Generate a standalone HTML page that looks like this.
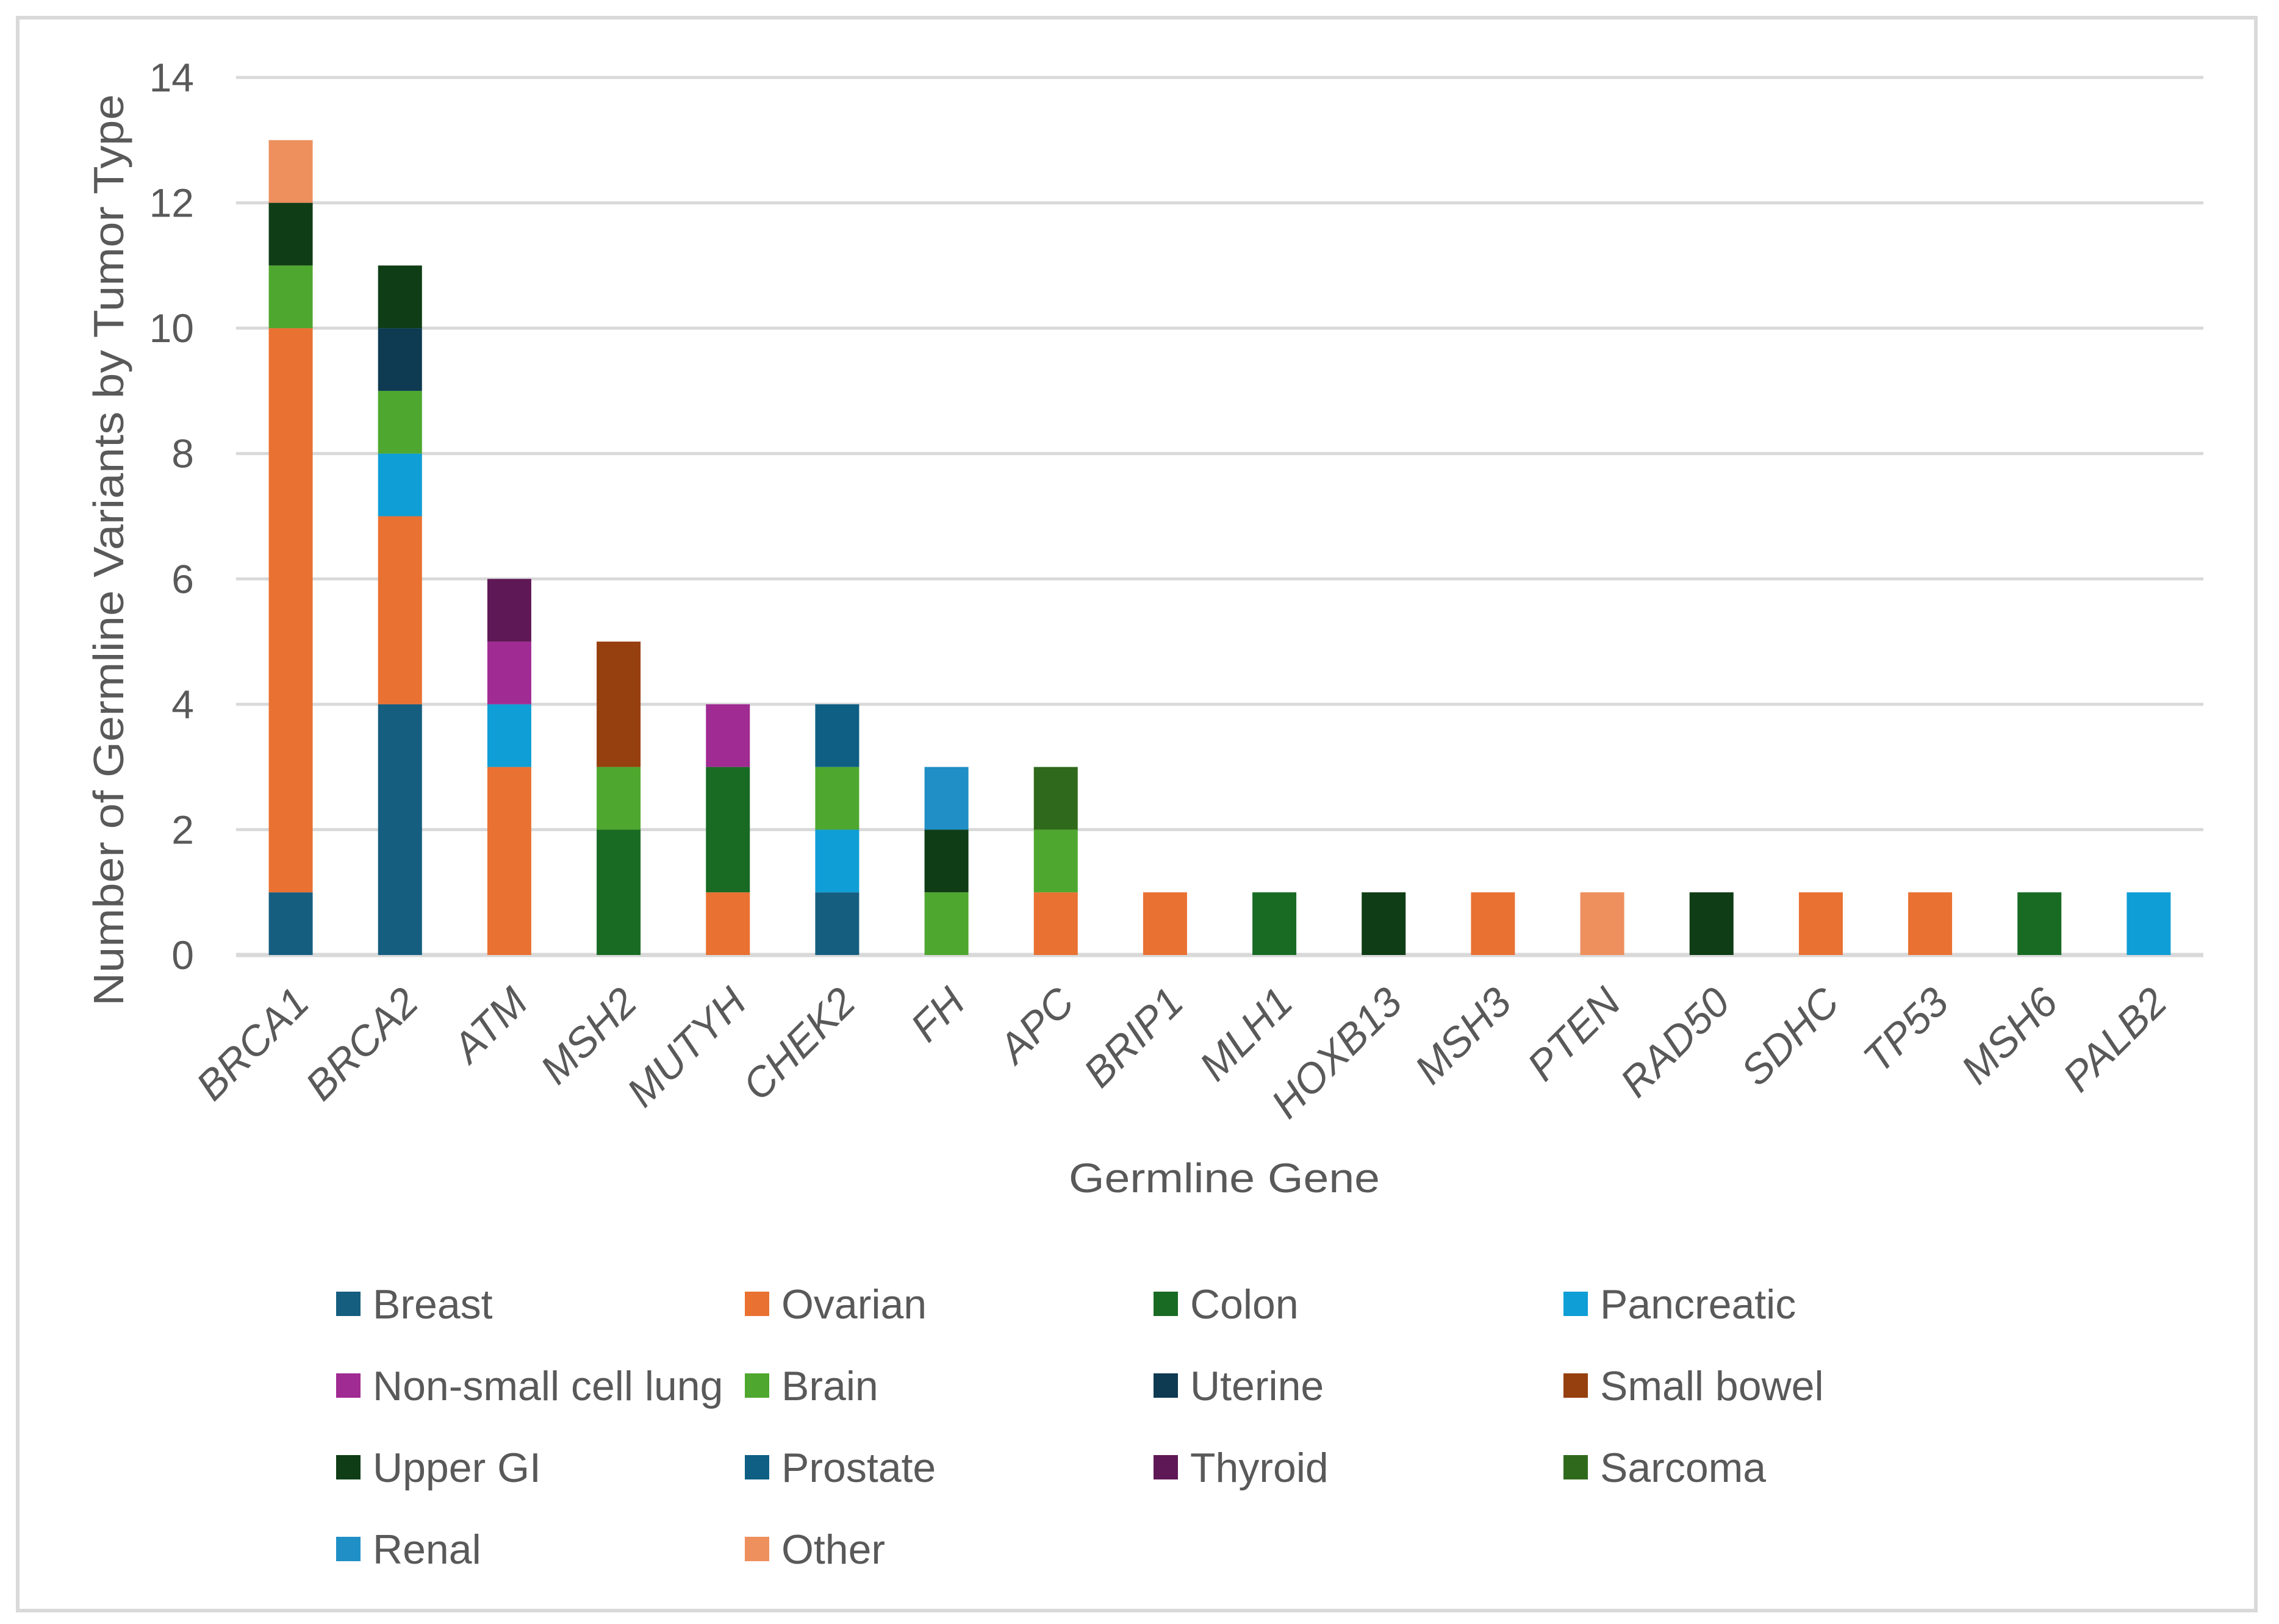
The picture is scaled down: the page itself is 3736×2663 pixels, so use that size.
<!DOCTYPE html>
<html><head><meta charset="utf-8"><style>
html,body{margin:0;padding:0;background:#fff;}
svg{display:block;font-family:"Liberation Sans",sans-serif;}
</style></head><body>
<svg id="chart" width="3736" height="2663" viewBox="0 0 3736 2663" xmlns="http://www.w3.org/2000/svg">
<rect x="0" y="0" width="3736" height="2663" fill="#fff"/>
<rect x="29" y="29" width="3669" height="2612" fill="none" stroke="#d9d9d9" stroke-width="6"/>
<g id="grid"></g>
<g id="bars"></g>
<g id="ylabels"></g>
<g id="xlabels"></g>
<text transform="translate(202,902) rotate(-90)" text-anchor="middle" font-size="70" textLength="1495" lengthAdjust="spacingAndGlyphs" fill="#595959">Number of Germline Variants by Tumor Type</text>
<text x="2007" y="1955" text-anchor="middle" font-size="68" textLength="510" lengthAdjust="spacingAndGlyphs" fill="#595959">Germline Gene</text>
<g id="legend"></g>
</svg>
<script>
const categories = ["BRCA1","BRCA2","ATM","MSH2","MUTYH","CHEK2","FH","APC","BRIP1","MLH1","HOXB13","MSH3","PTEN","RAD50","SDHC","TP53","MSH6","PALB2"];
const seriesNames = ["Breast","Ovarian","Colon","Pancreatic","Non-small cell lung","Brain","Uterine","Small bowel","Upper GI","Prostate","Thyroid","Sarcoma","Renal","Other"];
const seriesColors = ["#165e80","#e97132","#196b24","#0f9ed5","#a02b93","#4ea72e","#0e3a52","#963f0f","#0f3d16","#0f5f84","#5f1856","#2f6a1c","#1f8fc5","#ee8f5e"];
const breast     = [1,4,0,0,0,1,0,0,0,0,0,0,0,0,0,0,0,0];
const ovarian    = [9,3,3,0,1,0,0,1,1,0,0,1,0,0,1,1,0,0];
const colon      = [0,0,0,2,2,0,0,0,0,1,0,0,0,0,0,0,1,0];
const pancreatic = [0,1,1,0,0,1,0,0,0,0,0,0,0,0,0,0,0,1];
const nsclc      = [0,0,1,0,1,0,0,0,0,0,0,0,0,0,0,0,0,0];
const brain      = [1,1,0,1,0,1,1,1,0,0,0,0,0,0,0,0,0,0];
const uterine    = [0,1,0,0,0,0,0,0,0,0,0,0,0,0,0,0,0,0];
const smallBowel = [0,0,0,2,0,0,0,0,0,0,0,0,0,0,0,0,0,0];
const upperGI    = [1,1,0,0,0,0,1,0,0,0,1,0,0,1,0,0,0,0];
const prostate   = [0,0,0,0,0,1,0,0,0,0,0,0,0,0,0,0,0,0];
const thyroid    = [0,0,1,0,0,0,0,0,0,0,0,0,0,0,0,0,0,0];
const sarcoma    = [0,0,0,0,0,0,0,1,0,0,0,0,0,0,0,0,0,0];
const renal      = [0,0,0,0,0,0,1,0,0,0,0,0,0,0,0,0,0,0];
const other      = [1,0,0,0,0,0,0,0,0,0,0,0,1,0,0,0,0,0];
const yTicks = [0,2,4,6,8,10,12,14];

const series = [breast,ovarian,colon,pancreatic,nsclc,brain,uterine,smallBowel,upperGI,prostate,thyroid,sarcoma,renal,other];
const NS="http://www.w3.org/2000/svg";
const plotL=387, plotR=3612, y0=1566, yTop=127, yMax=14;
const band=(plotR-plotL)/categories.length, barW=72;
function yScale(v){return y0-(v/yMax)*(y0-yTop);}
function xCenter(i){return plotL+band*(i+0.5);}
function mk(tag,attrs,parent){const e=document.createElementNS(NS,tag);for(const k in attrs)e.setAttribute(k,attrs[k]);parent.appendChild(e);return e;}

const grid=document.getElementById('grid'), ylab=document.getElementById('ylabels');
yTicks.forEach(t=>{
  const y=yScale(t);
  const l=mk('line',{x1:plotL,x2:plotR,y1:y,y2:y,stroke:'#d9d9d9','stroke-width':t===0?7:5},grid);
  
  
  const tx=mk('text',{x:318,y:y+23,'text-anchor':'end','font-size':66,fill:'#595959'},ylab);
  tx.textContent=t;
  
  
});

const bars=document.getElementById('bars'), xl=document.getElementById('xlabels');
categories.forEach((c,i)=>{
  let cum=0;
  series.forEach((s,si)=>{
    const v=s[i]; if(!v) return;
    const yT=yScale(cum+v), yB=yScale(cum);
    const r=mk('rect',{x:xCenter(i)-barW/2,y:yT,width:barW,height:yB-yT,fill:seriesColors[si]},bars);
    
    
    cum+=v;
  });
  const tx=mk('text',{transform:'translate('+(xCenter(i)+34)+',1648) rotate(-45)','text-anchor':'end','font-size':68,'font-style':'italic',fill:'#595959'},xl);
  tx.textContent=c;
  
  
});

const leg=document.getElementById('legend');
const colX=[551,1221,1891,2563], rowY=[2118,2252,2386,2520];
seriesNames.forEach((n,i)=>{
  const g=mk('g',{},leg);
  
  
  const x=colX[i%4], y=rowY[Math.floor(i/4)];
  mk('rect',{x:x,y:y,width:40,height:40,fill:seriesColors[i]},g);
  const t=mk('text',{x:x+60,y:y+44,'font-size':68,fill:'#595959'},g);
  t.textContent=n;
});
</script>
</body></html>
